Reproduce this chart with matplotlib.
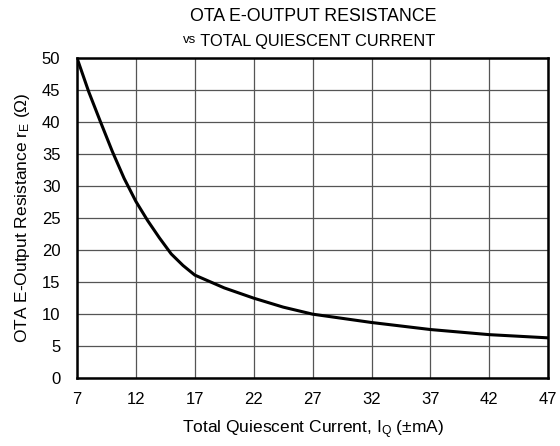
import matplotlib
matplotlib.use('Agg')
import matplotlib.pyplot as plt

plt.rcParams['font.family'] = ['Liberation Sans', 'DejaVu Sans']
plt.rcParams['mathtext.fontset'] = 'custom'
plt.rcParams['mathtext.rm'] = 'Liberation Sans'
plt.rcParams['mathtext.it'] = 'Liberation Sans'

# total quiescent current (±mA) vs E-output resistance (ohm)
current = [7, 8, 9, 10, 11, 12, 13, 14, 15, 16, 17, 19.5, 22, 24.5, 27, 32, 37, 42, 47]
resistance = [50, 44.7, 40, 35.4, 31.2, 27.6, 24.6, 21.9, 19.4, 17.6, 16.1, 14.1, 12.5,
              11.1, 10.0, 8.7, 7.6, 6.8, 6.3]

x_ticks = [7, 12, 17, 22, 27, 32, 37, 42, 47]
y_ticks = [0, 5, 10, 15, 20, 25, 30, 35, 40, 45, 50]

fig = plt.figure(figsize=(5.6, 4.46), dpi=100)
ax = fig.add_axes([0.1375, 0.152, 0.8415, 0.718])

ax.plot(current, resistance, color='black', linewidth=2.2, zorder=3)

ax.set_xlim(7, 47)
ax.set_ylim(0, 50)
ax.set_xticks(x_ticks)
ax.set_yticks(y_ticks)
ax.tick_params(length=0, labelsize=12)
ax.tick_params(axis='x', pad=10)
ax.tick_params(axis='y', pad=12)
ax.grid(True, color='#555555', linewidth=0.9)

for side in ['left', 'top', 'right', 'bottom']:
    ax.spines[side].set_linewidth(1.8)
    ax.spines[side].set_color('black')

ax.set_xlabel('Total Quiescent Current, I$_\\mathrm{Q}$ (±mA)', fontsize=12.5, labelpad=8)
ax.set_ylabel('OTA E-Output Resistance r$_\\mathrm{E}$ ($\\Omega$)', fontsize=12.5, labelpad=7)

fig.text(0.559, 0.962, 'OTA E-OUTPUT RESISTANCE', ha='center', va='center', fontsize=12.8)
vs = fig.text(0.327, 0.904, 'vs', ha='left', va='baseline', fontsize=9.5)
ax.annotate(' TOTAL QUIESCENT CURRENT', xy=(1, 0), xycoords=vs, va='baseline',
            ha='left', fontsize=11.8)

fig.savefig('out.png', dpi=100)
